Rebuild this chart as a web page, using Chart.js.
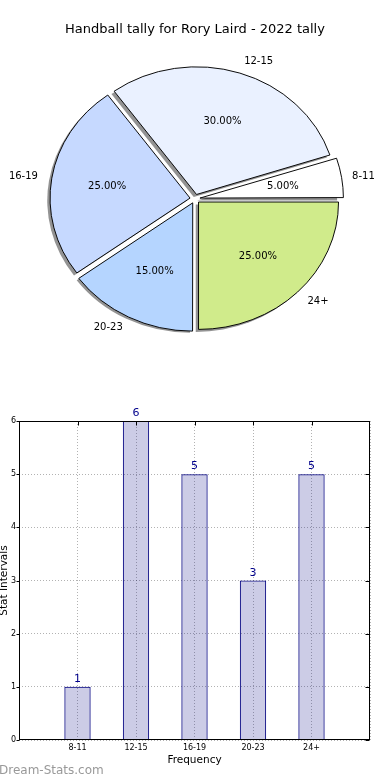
<!DOCTYPE html>
<html>
<head>
<meta charset="utf-8">
<script src="https://cdn.jsdelivr.net/npm/chart.js@4/dist/chart.umd.min.js"></script>
<style>
  body { margin: 0; background: #fff; width: 390px; height: 780px; overflow: hidden; position: relative; font-family: "DejaVu Sans", sans-serif; }
  #pieChart { position: absolute; left: 0; top: 0; }
  #barChart { position: absolute; left: 0; top: 360px; }
  #mark { position: absolute; left: -1px; top: 763px; font-size: 12px; line-height: 14px; color: #999; }
</style>
</head>
<body>
<canvas id="pieChart" width="390" height="360"></canvas>
<canvas id="barChart" width="390" height="420"></canvas>
<div id="mark">Dream-Stats.com</div>
<script>
const chartTitle = 'Handball tally for Rory Laird - 2022 tally';
const categories = ['8-11', '12-15', '16-19', '20-23', '24+'];
const tally = [1, 6, 5, 3, 5];
const sliceColors = ['#ffffff', '#eaf1ff', '#c6d9ff', '#b5d5ff', '#d0eb8b'];
const xTitle = 'Frequency';
const yTitle = 'Stat Intervals';

Chart.defaults.font.family = '"DejaVu Sans", sans-serif';
Chart.defaults.color = '#000';

// matplotlib goes counterclockwise from 3 o'clock, chart.js clockwise -> reverse
const pieOrder = categories.map((c, i) => i).reverse();
const total = tally.reduce((a, b) => a + b, 0);
const squash = 0.91;

function arcInfo(arc) {
    const p = arc.getProps(['x', 'y', 'startAngle', 'endAngle', 'outerRadius'], true);
    p.mid = (p.startAngle + p.endAngle) / 2;
    p.off = (arc.options.offset || 0) / 4;
    return p;
}

// squash the pie into an ellipse and draw the drop shadows
const ellipsePlugin = {
    id: 'ellipse',
    beforeDatasetsDraw(chart) {
        const ctx = chart.ctx;
        const arcs = chart.getDatasetMeta(0).data;
        const cx = arcs[0].x, cy = arcs[0].y;
        ctx.save();
        ctx.translate(cx, cy);
        ctx.scale(1, squash);
        ctx.translate(-cx, -cy);
        ctx.fillStyle = 'rgba(40,40,40,0.5)';
        arcs.forEach(arc => {
            const a = arcInfo(arc);
            const sx = a.x + Math.cos(a.mid) * a.off - 2.8;
            const sy = a.y + Math.sin(a.mid) * a.off + 2.5 / squash;
            ctx.beginPath();
            ctx.moveTo(sx, sy);
            ctx.arc(sx, sy, a.outerRadius, a.startAngle, a.endAngle);
            ctx.closePath();
            ctx.fill();
        });
    },
    afterDatasetsDraw(chart) {
        const ctx = chart.ctx;
        ctx.restore();
        ctx.save();
        ctx.font = '10px "DejaVu Sans"';
        ctx.fillStyle = '#000';
        ctx.textBaseline = 'middle';
        chart.getDatasetMeta(0).data.forEach((arc, j) => {
            const i = pieOrder[j];
            const a = arcInfo(arc);
            const put = d => [a.x + Math.cos(a.mid) * d, a.y + Math.sin(a.mid) * d * squash];
            let [lx, ly] = put(a.off + a.outerRadius * 1.1);
            ctx.textAlign = Math.cos(a.mid) > 0 ? 'left' : 'right';
            ctx.fillText(categories[i], lx, ly);
            [lx, ly] = put(a.off + a.outerRadius * 0.6);
            ctx.textAlign = 'center';
            ctx.fillText((tally[i] / total * 100).toFixed(2) + '%', lx, ly);
        });
        ctx.restore();
    }
};

new Chart(document.getElementById('pieChart'), {
    type: 'pie',
    data: {
        labels: pieOrder.map(i => categories[i]),
        datasets: [{
            data: pieOrder.map(i => tally[i]),
            backgroundColor: pieOrder.map(i => sliceColors[i]),
            borderColor: '#000',
            borderWidth: 1,
            offset: 20,
            clip: false
        }]
    },
    options: {
        responsive: false,
        animation: false,
        rotation: 90,
        radius: 140,
        layout: { padding: { bottom: 10 } },
        plugins: {
            legend: { display: false },
            tooltip: { enabled: false },
            title: {
                display: true,
                text: chartTitle,
                color: '#000',
                font: { size: 13, weight: 'normal' },
                padding: { top: 22, bottom: 10 }
            }
        }
    },
    plugins: [ellipsePlugin]
});

// box round the plot + small tick marks
const framePlugin = {
    id: 'frame',
    afterDraw(chart) {
        const { ctx, chartArea: a, scales: { x, y } } = chart;
        const l = Math.round(a.left) + 0.5, r = Math.round(a.right) - 0.5;
        const t = Math.round(a.top) + 0.5, b = Math.round(a.bottom) - 0.5;
        ctx.save();
        ctx.strokeStyle = '#000';
        ctx.lineWidth = 1;
        ctx.strokeRect(l, t, r - l, b - t);
        ctx.beginPath();
        y.ticks.forEach(tk => {
            const py = Math.round(y.getPixelForValue(tk.value)) + 0.5;
            ctx.moveTo(l - 3, py); ctx.lineTo(l, py);
            ctx.moveTo(r, py); ctx.lineTo(r - 4, py);
        });
        categories.forEach((c, i) => {
            const px = Math.round(x.getPixelForValue(i)) + 0.5;
            ctx.moveTo(px, t); ctx.lineTo(px, t + 4);
        });
        ctx.stroke();
        ctx.restore();
    }
};

const valueLabels = {
    id: 'valueLabels',
    afterDatasetsDraw(chart) {
        const ctx = chart.ctx;
        ctx.save();
        ctx.font = '11px "DejaVu Sans"';
        ctx.fillStyle = '#00008b';
        ctx.textAlign = 'center';
        ctx.textBaseline = 'alphabetic';
        chart.getDatasetMeta(0).data.forEach((bar, i) => {
            ctx.fillText(String(tally[i]), bar.x, bar.y - 5);
        });
        ctx.restore();
    }
};

const gridStyle = { color: 'rgba(0,0,0,0.3)', drawTicks: false, lineWidth: 1, offset: false };

new Chart(document.getElementById('barChart'), {
    type: 'bar',
    data: {
        datasets: [{
            data: categories.map((c, i) => ({ x: i, y: tally[i] })),
            backgroundColor: 'rgba(0,0,128,0.2)',
            borderColor: '#000080',
            borderWidth: 1,
            barPercentage: 0.45,
            categoryPercentage: 1
        }]
    },
    options: {
        responsive: false,
        animation: false,
        layout: { padding: { top: 61, right: 20, left: 0, bottom: 0 } },
        plugins: { legend: { display: false }, tooltip: { enabled: false } },
        scales: {
            x: {
                type: 'linear',
                min: -1,
                max: 5,
                offset: false,
                afterFit: s => { s.height = 40; },
                ticks: {
                    stepSize: 1, padding: 3, color: '#000', font: { size: 8 },
                    autoSkip: false, maxRotation: 0,
                    callback: v => categories[v] || ''
                },
                grid: gridStyle,
                border: { display: false, dash: [1, 2] },
                title: { display: true, text: xTitle, color: '#000', font: { size: 10.5 }, padding: { top: 0, bottom: 13 } }
            },
            y: {
                min: 0,
                max: 6,
                afterFit: s => { s.width = 19; },
                ticks: { stepSize: 1, padding: 3, color: '#000', font: { size: 8 } },
                grid: gridStyle,
                border: { display: false, dash: [1, 2] },
                title: { display: true, text: yTitle, color: '#000', font: { size: 10.5, lineHeight: 0.86 }, padding: 0 }
            }
        }
    },
    plugins: [framePlugin, valueLabels]
});
</script>
</body>
</html>
